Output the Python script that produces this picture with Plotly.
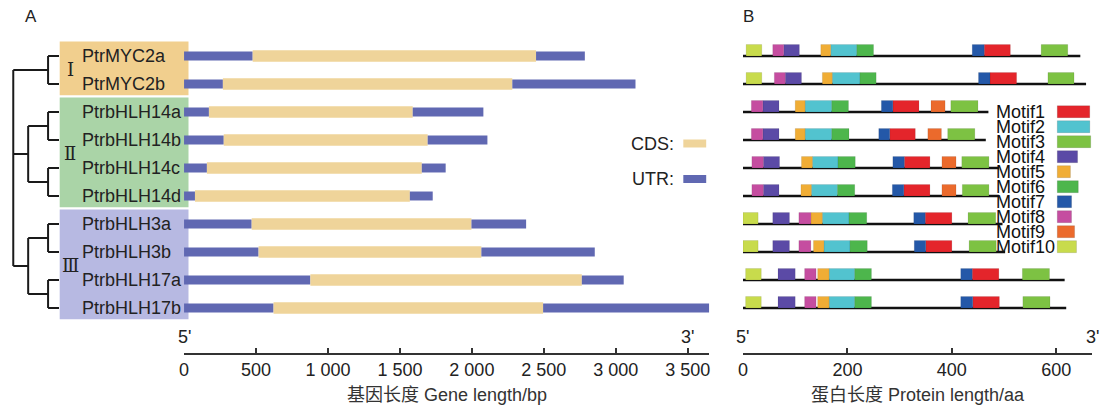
import plotly.graph_objects as go

W, H = 1111, 405

# ---------------- data ----------------
genes = ["PtrMYC2a", "PtrMYC2b", "PtrbHLH14a", "PtrbHLH14b", "PtrbHLH14c",
         "PtrbHLH14d", "PtrbHLH3a", "PtrbHLH3b", "PtrbHLH17a", "PtrbHLH17b"]
groups = ["Ⅰ", "Ⅱ", "Ⅲ"]
group_first = [0, 2, 6]
group_last = [1, 5, 9]
tree = ((0, 1), ((2, 3), (4, 5)), ((6, 7), (8, 9)))

cds_start = [477, 270, 173, 276, 159, 76, 470, 518, 878, 622]
cds_end = [2446, 2281, 1589, 1693, 1652, 1569, 1997, 2066, 2764, 2495]
gene_len = [2785, 3137, 2080, 2108, 1818, 1728, 2377, 2854, 3055, 3649]

gene_ticks = [0, 500, 1000, 1500, 2000, 2500, 3000, 3500]
gene_tick_text = ["0", "500", "1 000", "1 500", "2 000", "2 500", "3 000", "3 500"]
prot_ticks = [0, 200, 400, 600]

protein_len = [646, 657, 470, 465, 490, 490, 497, 502, 616, 619]

# (motif number, start aa, end aa)
m_PtrMYC2a = [(10, 6, 36), (8, 57, 78), (4, 78, 108), (5, 149, 168), (2, 168, 218),
              (6, 218, 250), (7, 439, 462), (1, 462, 512), (3, 571, 622)]
m_PtrMYC2b = [(10, 6, 36), (8, 60, 81), (4, 81, 112), (5, 152, 171), (2, 171, 224),
              (6, 224, 255), (7, 451, 473), (1, 473, 524), (3, 584, 634)]
m_PtrbHLH14a = [(8, 16, 38), (4, 38, 69), (5, 100, 119), (2, 119, 170), (6, 170, 202),
                (7, 265, 287), (1, 287, 337), (9, 360, 387), (3, 398, 450)]
m_PtrbHLH14b = [(8, 16, 38), (4, 38, 69), (5, 100, 119), (2, 119, 170), (6, 170, 203),
                (7, 260, 281), (1, 281, 330), (9, 354, 380), (3, 392, 444)]
m_PtrbHLH14c = [(8, 17, 39), (4, 39, 70), (5, 112, 133), (2, 133, 182), (6, 182, 215),
                (7, 287, 309), (1, 309, 358), (9, 381, 408), (3, 419, 471)]
m_PtrbHLH14d = [(8, 17, 39), (4, 39, 69), (5, 111, 131), (2, 131, 181), (6, 181, 214),
                (7, 286, 308), (1, 308, 358), (9, 381, 408), (3, 420, 471)]
m_PtrbHLH3a = [(10, 0, 29), (4, 57, 89), (8, 107, 130), (5, 130, 152), (2, 152, 203),
               (6, 203, 237), (7, 327, 349), (1, 349, 400), (3, 431, 484)]
m_PtrbHLH3b = [(10, 0, 29), (4, 57, 89), (8, 107, 130), (5, 135, 155), (2, 155, 205),
               (6, 205, 238), (7, 328, 350), (1, 350, 400), (3, 433, 485)]
m_PtrbHLH17a = [(10, 5, 35), (4, 67, 100), (8, 118, 140), (5, 143, 165), (2, 165, 214),
                (6, 214, 246), (7, 417, 439), (1, 439, 490), (3, 535, 587)]
m_PtrbHLH17b = [(10, 5, 35), (4, 67, 100), (8, 118, 140), (5, 143, 165), (2, 165, 214),
                (6, 214, 246), (7, 417, 440), (1, 440, 491), (3, 536, 588)]
motif_table = [m_PtrMYC2a, m_PtrMYC2b, m_PtrbHLH14a, m_PtrbHLH14b, m_PtrbHLH14c,
               m_PtrbHLH14d, m_PtrbHLH3a, m_PtrbHLH3b, m_PtrbHLH17a, m_PtrbHLH17b]

motif_names = ["Motif%d" % i for i in range(1, 11)]

# ---------------- styles ----------------
FONT = "Liberation Sans, Arial, Noto Sans CJK SC, sans-serif"
TXT = "#222222"
CDS_C = "#EFD49A"
UTR_C = "#6068B2"
group_colors = ["#F1CF8E", "#AAD4A7", "#B7B9E2"]
motif_colors = ["#E4252B", "#52C3CF", "#7DC243", "#5B4AA6", "#F0AD35",
                "#4DB64C", "#2458A8", "#C54DA0", "#EB6A2C", "#C8DB4C"]

ROW0_PX, ROW_PX = 56.0, 28.0          # pixel centre of row 0, row pitch
Y_RANGE = [(H - ROW0_PX) / ROW_PX, -ROW0_PX / ROW_PX]

GENE_X0_PX, GENE_PX_PER_BP = 180.0, 0.1447
GENE_RANGE = [0, 3650]
PROT_X0_PX, PROT_PX_PER_AA = 742.0, 0.525
PROT_RANGE = [0, 669]
AXIS_Y_PX = 354.0


def xp(px):
    return px / W


def yp(py):
    return 1 - py / H


def ann(x, y, text, size=18, color=TXT, xanchor="center", family=FONT,
        xref="paper", yref="paper"):
    return dict(x=x, y=y, xref=xref, yref=yref, text=text, showarrow=False,
                xanchor=xanchor, yanchor="middle",
                font=dict(family=family, size=size, color=color))


rows = list(range(len(genes)))
fig = go.Figure()

# ---------------- gene structures ----------------
fig.add_trace(go.Bar(orientation="h", y=rows, x=cds_start, base=[0] * len(rows),
                     width=0.32, marker=dict(color=UTR_C, line_width=0),
                     xaxis="x", yaxis="y", hoverinfo="skip"))
fig.add_trace(go.Bar(orientation="h", y=rows,
                     x=[e - s for s, e in zip(cds_start, cds_end)], base=cds_start,
                     width=0.41, marker=dict(color=CDS_C, line_width=0),
                     xaxis="x", yaxis="y", hoverinfo="skip"))
fig.add_trace(go.Bar(orientation="h", y=rows,
                     x=[g - e for e, g in zip(cds_end, gene_len)], base=cds_end,
                     width=0.32, marker=dict(color=UTR_C, line_width=0),
                     xaxis="x", yaxis="y", hoverinfo="skip"))

# ---------------- protein backbones ----------------
shapes = []
for r, L in zip(rows, protein_len):
    shapes.append(dict(type="line", xref="x2", yref="y", x0=0, x1=L, y0=r, y1=r,
                       line=dict(color="#111111", width=2.5), layer="below"))

# ---------------- motifs ----------------
motif_lengths = {k: [] for k in range(1, 11)}
for k in range(1, 11):
    ys, bs, ls = [], [], []
    for r, lst in zip(rows, motif_table):
        for m, s, e in lst:
            if m == k:
                ys.append(r)
                bs.append(s)
                ls.append(e - s)
                motif_lengths[k].append(e - s)
    fig.add_trace(go.Bar(orientation="h", y=ys, x=ls, base=bs, width=0.41, offset=-0.41,
                         marker=dict(color=motif_colors[k - 1],
                                     line=dict(color="rgba(0,0,0,0.15)", width=0.6)),
                         xaxis="x2", yaxis="y", hoverinfo="skip"))

# ---------------- tree ----------------
level_x_px = [54.3, 43.3, 23.3, 8.3]


def height(node):
    return 0 if isinstance(node, int) else 1 + max(height(c) for c in node)


tx, ty = [], []


def build(node):
    if isinstance(node, int):
        return float(node)
    cys = [build(c) for c in node]
    xn = level_x_px[height(node)]
    for c, cy in zip(node, cys):
        tx.extend([xn, level_x_px[height(c)], None])
        ty.extend([cy, cy, None])
    tx.extend([xn, xn, None])
    ty.extend([min(cys), max(cys), None])
    return (min(cys) + max(cys)) / 2


build(tree)
fig.add_trace(go.Scatter(x=tx, y=ty, mode="lines", line=dict(color="#1a1a1a", width=2),
                         xaxis="x3", yaxis="y", hoverinfo="skip"))

# group boxes
annotations = []
for g, f, l, c in zip(groups, group_first, group_last, group_colors):
    shapes.append(dict(type="rect", xref="paper", yref="y", x0=xp(55), x1=xp(184.5),
                       y0=f - 0.52, y1=l + 0.4, fillcolor=c, line_width=0, layer="below"))
    annotations.append(ann(xp(65.5), (f + l) / 2, g, yref="y",
                           family="Liberation Serif, DejaVu Serif, serif"))

for r, gname in zip(rows, genes):
    annotations.append(ann(xp(75), r, gname, xanchor="left", yref="y"))

# CDS / UTR legend
for lab, col, cy in [("CDS:", CDS_C, 143.5), ("UTR:", UTR_C, 179)]:
    annotations.append(ann(xp(675), yp(cy), lab, xanchor="right"))
    shapes.append(dict(type="rect", xref="paper", yref="paper", x0=xp(682), x1=xp(705),
                       y0=yp(cy + 4), y1=yp(cy - 4), fillcolor=col, line_width=0))

# Motif legend
for i, name in enumerate(motif_names):
    cy = 111.7 + 15 * i
    w = 0.65 * sum(motif_lengths[i + 1]) / len(motif_lengths[i + 1])
    annotations.append(ann(xp(994), yp(cy), name, xanchor="left", color="#111111"))
    shapes.append(dict(type="rect", xref="paper", yref="paper", x0=xp(1058),
                       x1=xp(1058 + w), y0=yp(cy + 6), y1=yp(cy - 6),
                       fillcolor=motif_colors[i], line=dict(color="rgba(0,0,0,0.2)", width=0.6)))

# panel letters, 5'/3' and axis titles
annotations += [
    ann(xp(26), yp(16), "A", size=17),
    ann(xp(748), yp(16), "B", size=17),
    ann(0, yp(337), "5'", xref="x"),
    ann(3500, yp(337), "3'", xref="x"),
    ann(0, yp(337), "5'", xref="x2"),
    ann(PROT_RANGE[1], yp(337), "3'", xref="x2"),
    ann(sum(GENE_RANGE) / 2, yp(395), "基因长度 Gene length/bp", xref="x", color="#333333"),
    ann(sum(PROT_RANGE) / 2, yp(395), "蛋白长度 Protein length/aa", xref="x2", color="#333333"),
]

gx1 = GENE_X0_PX + (GENE_RANGE[1] - GENE_RANGE[0]) * GENE_PX_PER_BP
px1 = PROT_X0_PX + (PROT_RANGE[1] - PROT_RANGE[0]) * PROT_PX_PER_AA
axis_common = dict(anchor="free", position=1 - AXIS_Y_PX / H, showgrid=False,
                   zeroline=False, showline=True, linecolor="#333333", linewidth=1.5,
                   ticks="inside", ticklen=5, tickwidth=1.5, tickcolor="#333333",
                   tickfont=dict(family=FONT, size=18, color=TXT), fixedrange=True)

fig.update_layout(
    width=W, height=H, margin=dict(l=0, r=0, t=0, b=0),
    paper_bgcolor="white", plot_bgcolor="rgba(0,0,0,0)",
    barmode="overlay", showlegend=False,
    xaxis=dict(domain=[xp(GENE_X0_PX), xp(gx1)], range=GENE_RANGE,
               tickvals=gene_ticks, ticktext=gene_tick_text, **axis_common),
    xaxis2=dict(domain=[xp(PROT_X0_PX), xp(px1)], range=PROT_RANGE,
                tickvals=prot_ticks, **axis_common),
    xaxis3=dict(domain=[0, 1], range=[0, W], visible=False, anchor="y", fixedrange=True),
    yaxis=dict(domain=[0, 1], range=Y_RANGE, visible=False, fixedrange=True),
    shapes=shapes, annotations=annotations,
)

fig.write_html("out.html", config={"displayModeBar": False},
               post_script="document.body.style.margin='0px';")
